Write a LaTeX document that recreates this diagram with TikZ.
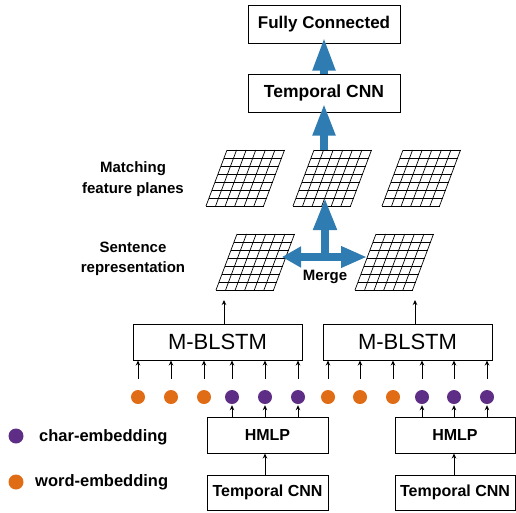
\documentclass[tikz,border=0pt]{standalone}
\usepackage{fontspec}
\setmainfont{Liberation Sans}
\usetikzlibrary{arrows.meta,calc}
\definecolor{barrow}{RGB}{46,124,178}
\definecolor{cpurple}{RGB}{94,46,134}
\definecolor{corange}{RGB}{224,108,22}
\begin{document}
\begin{tikzpicture}[x=1pt,y=-1pt,
  box/.style={draw=black, line width=1pt, inner sep=0pt},
  bfont/.style={font=\bfseries\fontsize{#1}{#1}\selectfont},
  gridline/.style={line width=0.7pt, black},
  sarrow/.style={line width=0.9pt, -{Stealth[length=5pt,width=4.5pt]}},
  bluearrow/.style={draw=barrow, line width=7.5pt},
  dotp/.style={circle, fill=cpurple, minimum size=14pt, inner sep=0pt},
  doto/.style={circle, fill=corange, minimum size=14pt, inner sep=0pt},
  plane/.pic={
    \foreach \i in {0,...,6} \draw[gridline] ({21+\i*57.5/6},0) -- ({\i*57.5/6},56);
    \foreach \j in {0,...,7} \draw[gridline] ({21*(1-\j/7)},{\j*56/7}) -- ({21*(1-\j/7)+57.5},{\j*56/7});
    \coordinate (-top) at (39.25,0);
    \coordinate (-bot) at (28.75,56);
  }]
\useasboundingbox (0,0) rectangle (516,512);

% top boxes
\node[box, minimum width=152pt, minimum height=38pt, bfont=17] (fc) at (324,24) {Fully Connected};
\node[box, minimum width=152pt, minimum height=38pt, bfont=17.5] (tcnn) at (324,93) {Temporal CNN};

% feature planes
\pic (mf1) at (206,150) {plane};
\pic (mf2) at (293,150) {plane};
\pic (mf3) at (382,150) {plane};
\pic (sr1) at (216,234) {plane};
\pic (sr2) at (355,234) {plane};

% labels
\node[align=center, font=\bfseries\fontsize{15}{21.5}\selectfont] (lmf) at (133,179) {Matching\\feature planes};
\node[align=center, font=\bfseries\fontsize{15}{20.5}\selectfont] (lsr) at (133,259) {Sentence\\representation};
\node[font=\bfseries\fontsize{15}{15}\selectfont] (lmerge) at (325,277) {Merge};

% blue arrows
\draw[bluearrow, shorten >=-6pt, -{Triangle[length=33pt,width=21pt]}] (tcnn.north) -- (fc.south);
\draw[bluearrow, shorten >=-9pt, -{Triangle[length=32pt,width=21pt]}] (tcnn.south |- mf2-top) -- (tcnn.south);
\coordinate (merge) at (325,257);
\coordinate (ml) at (282,257);
\coordinate (mr) at (367,257);
\draw[bluearrow, shorten >=-8pt, -{Triangle[length=32pt,width=22pt]}] (merge) -- (merge |- mf2-bot);
\draw[bluearrow, {Triangle[length=19pt,width=20pt]}-{Triangle[length=26pt,width=20pt]}] (ml) -- (mr);

% M-BLSTM
\node[box, minimum width=169pt, minimum height=36pt, font=\fontsize{22}{22}\selectfont] (mb1) at (217.5,342) {M-BLSTM};
\node[box, minimum width=169pt, minimum height=36pt, font=\fontsize{22}{22}\selectfont] (mb2) at (407.5,342) {M-BLSTM};
\coordinate (sr1in) at (224,300);
\coordinate (sr2in) at (415,300);
\draw[sarrow] (mb1.north -| sr1in) -- (sr1in);
\draw[sarrow] (mb2.north -| sr2in) -- (sr2in);

% embeddings
\node[doto] (c1) at (138,397) {};
\node[doto] (c2) at (171,397) {};
\node[doto] (c3) at (204,397) {};
\node[dotp] (c4) at (232,397) {};
\node[dotp] (c5) at (265,397) {};
\node[dotp] (c6) at (298,397) {};
\node[doto] (c7) at (328,397) {};
\node[doto] (c8) at (360,397) {};
\node[doto] (c9) at (393,397) {};
\node[dotp] (c10) at (422,397) {};
\node[dotp] (c11) at (454,397) {};
\node[dotp] (c12) at (487,397) {};
\foreach \k in {1,...,6} \draw[sarrow, shorten <=11pt] (c\k.north) -- (mb1.south -| c\k);
\foreach \k in {7,...,12} \draw[sarrow, shorten <=11pt] (c\k.north) -- (mb2.south -| c\k);

% HMLP and temporal CNN
\node[box, minimum width=121pt, minimum height=36pt, bfont=16] (h1) at (267.5,435) {HMLP};
\node[box, minimum width=120pt, minimum height=36pt, bfont=16] (h2) at (455,435) {HMLP};
\node[box, minimum width=121pt, minimum height=35pt, bfont=16] (t1) at (267.5,492.5) {Temporal CNN};
\node[box, minimum width=120pt, minimum height=35pt, bfont=16] (t2) at (455,492.5) {Temporal CNN};
\foreach \k in {4,5,6} \draw[sarrow, shorten >=1pt] (h1.north -| c\k) -- (c\k.south);
\foreach \k in {10,11,12} \draw[sarrow, shorten >=1pt] (h2.north -| c\k) -- (c\k.south);
\draw[sarrow] (t1.north -| c5) -- (h1.south -| c5);
\draw[sarrow] (t2.north -| c11) -- (h2.south -| c11);

% legend
\node[dotp, minimum size=15pt] (lgp) at (16,436) {};
\node[doto, minimum size=15pt] (lgo) at (16,482) {};
\node[anchor=west, inner sep=0pt, bfont=16.5] (lgpt) at (39,437) {char-embedding};
\node[anchor=west, inner sep=0pt, bfont=16.5] (lgot) at (35,482) {word-embedding};
\end{tikzpicture}
\end{document}
